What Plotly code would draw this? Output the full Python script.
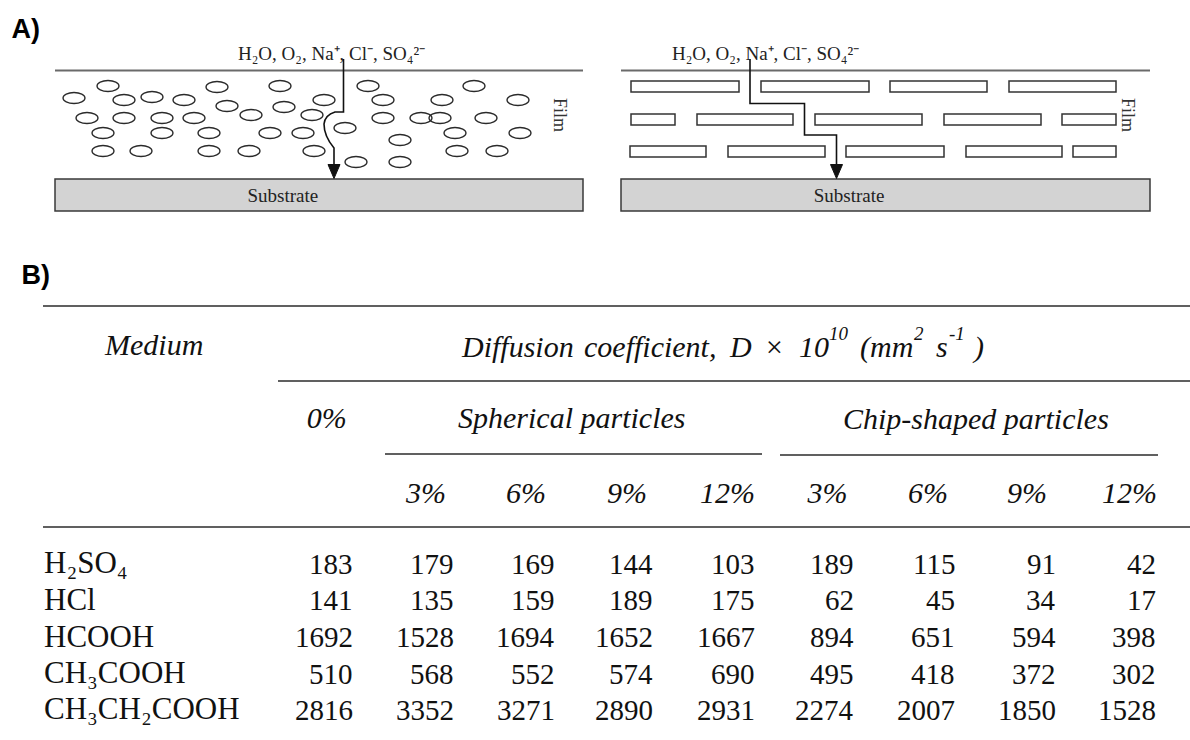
import plotly.graph_objects as go

W, H = 1190, 740
SERIF = "Liberation Serif"
SANS = "Liberation Sans"

# ---------------- Panel A data ----------------
species = "H\u2082O, O\u2082, Na\u207a, Cl\u207b, SO\u2084\u00b2\u207b"

# centres of the spherical particles in the left film
sphere_x = [108, 217, 280, 368, 474,
            74, 124, 152, 184, 324, 383, 442, 518,
            227, 284, 251, 312,
            87, 124, 162, 194, 383, 421, 440, 486,
            345, 103, 162, 209, 270, 303, 455, 520, 400,
            103, 141, 209, 249, 314, 457, 497,
            356, 400]
sphere_y = [86, 87, 86, 86, 86,
            98, 100, 97, 100, 100, 100, 100, 100,
            106, 107, 115, 115,
            118, 118, 118, 118, 118, 118, 118, 118,
            128, 133, 133, 133, 133, 133, 133, 133, 140,
            151, 151, 151, 151, 151, 151, 151,
            162, 162]

# chip-shaped particles: (row top, row bottom, [(x start, x end), ...])
chip_rows = [
    (81, 92, [(631, 739), (761, 869), (890, 987), (1009, 1116)]),
    (114, 125, [(631, 675), (697, 793), (815, 922), (944, 1041), (1062, 1116)]),
    (146, 157, [(630, 706), (728, 825), (846, 944), (966, 1062), (1073, 1116)]),
]

# ---------------- Panel B data ----------------
media = ["H\u2082SO\u2084", "HCl", "HCOOH", "CH\u2083COOH", "CH\u2083CH\u2082COOH"]
loadings = ["3%", "6%", "9%", "12%"]
d_neat = [183, 141, 1692, 510, 2816]
sph_3 = [179, 135, 1528, 568, 3352]
sph_6 = [169, 159, 1694, 552, 3271]
sph_9 = [144, 189, 1652, 574, 2890]
sph_12 = [103, 175, 1667, 690, 2931]
chip_3 = [189, 62, 894, 495, 2274]
chip_6 = [115, 45, 651, 418, 2007]
chip_9 = [91, 34, 594, 372, 1850]
chip_12 = [42, 17, 398, 302, 1528]
table_cols = [d_neat, sph_3, sph_6, sph_9, sph_12, chip_3, chip_6, chip_9, chip_12]

# column title "Diffusion coefficient, D x 10^10 (mm^2 s^-1)", set word by word
title_words = ["Diffusion", "coefficient,", "D", "\u00d7", "10", "(mm", "s", ")"]
title_word_x = [462, 584, 730, 764, 799, 860, 936, 974]
title_sups = ["10", "2", "-1"]
title_sup_x = [829, 914, 949]

# layout of the table
col_right = [352.5, 454, 554.5, 653, 755, 854, 955, 1055.5, 1156]
pct_right = [446, 546, 647, 755, 847.5, 948, 1047, 1157]
row_base = [573.3, 610, 646.7, 683.3, 719.3]   # text baselines of the body rows
NUM_SIZE = 29
LABEL_SIZE = 31

fig = go.Figure()
shapes = []
annotations = []


def text_trace(xs, ys, texts, pos, size, family=SERIF, color="#111111", style="normal",
               weight="normal"):
    fig.add_trace(go.Scatter(
        x=xs, y=ys, text=texts, mode="text", textposition=pos,
        textfont=dict(family=family, size=size, color=color, style=style, weight=weight),
        hoverinfo="skip", showlegend=False))


def line(x0, y0, x1, y1, color, width):
    shapes.append(dict(type="line", xref="x", yref="y", x0=x0, y0=y0, x1=x1, y1=y1,
                       line=dict(color=color, width=width)))


# ---------------- Panel A ----------------
text_trace([11.5], [31.5], ["A)"], "middle right", 27, family=SANS, color="#000000",
           weight="bold")

for (xl, xr) in [(55, 583), (621, 1150)]:
    # film surface
    line(xl, 70.5, xr, 70.5, "#6a6a6a", 2)
    # substrate block
    shapes.append(dict(type="rect", xref="x", yref="y", x0=xl, x1=xr, y0=179, y1=211,
                       fillcolor="#d3d3d3", line=dict(color="#3a3a3a", width=1.5),
                       layer="below"))

# spherical particles
for cx, cy in zip(sphere_x, sphere_y):
    shapes.append(dict(type="circle", xref="x", yref="y",
                       x0=cx - 11, x1=cx + 11, y0=cy - 5.5, y1=cy + 5.5,
                       fillcolor="rgba(0,0,0,0)", line=dict(color="#2a2a2a", width=1.3)))

# chip-shaped particles
for (y0, y1, spans) in chip_rows:
    for (x0, x1) in spans:
        shapes.append(dict(type="rect", xref="x", yref="y", x0=x0, x1=x1, y0=y0, y1=y1,
                           fillcolor="white", line=dict(color="#333333", width=1.5)))

# diffusion paths
shapes.append(dict(type="path", xref="x", yref="y",
                   path="M 343.5 59 L 343.5 112 L 335 112 Q 325 115 324 124 "
                        "Q 324 136 334 148 L 334 166",
                   line=dict(color="#111111", width=1.6)))
shapes.append(dict(type="path", xref="x", yref="y",
                   path="M 328 164.5 L 340 164.5 L 334 178.5 Z",
                   fillcolor="#111111", line=dict(color="#111111", width=1)))
shapes.append(dict(type="path", xref="x", yref="y",
                   path="M 750 59 L 750 103.5 L 804.5 103.5 L 804.5 135 "
                        "L 836.5 135 L 836.5 166",
                   line=dict(color="#111111", width=1.6)))
shapes.append(dict(type="path", xref="x", yref="y",
                   path="M 830.5 164.5 L 842.5 164.5 L 836.5 178.5 Z",
                   fillcolor="#111111", line=dict(color="#111111", width=1)))

text_trace([238, 672], [55.3, 55.3], [species, species], "middle right", 19, color="#222222")
text_trace([247.5, 813.7], [197, 197], ["Substrate", "Substrate"], "middle right", 19,
           color="#222222")
for fx in [560, 1128]:
    annotations.append(dict(x=fx, y=115, xref="x", yref="y", text="Film", showarrow=False,
                            textangle=90, font=dict(family=SERIF, size=18, color="#333333")))

# ---------------- Panel B ----------------
text_trace([21.5], [277], ["B)"], "middle right", 27, family=SANS, color="#000000",
           weight="bold")

rule = "#2b2b2b"
line(43, 306, W, 306, rule, 1.6)
line(278, 381, W, 381, rule, 1.6)
line(385, 454, 762, 454, rule, 1.4)
line(780, 455, 1158, 455, rule, 1.4)
line(43, 527, W, 527, rule, 1.6)

text_trace([105], [347.5], ["Medium"], "middle right", 30, style="italic")
text_trace(title_word_x, [349] * len(title_words), title_words, "middle right", 30,
           style="italic")
text_trace(title_sup_x, [335.5] * len(title_sups), title_sups, "middle right", 19,
           style="italic")
text_trace([346.7], [420.8], ["0%"], "middle left", 30, style="italic")
text_trace([458, 843], [420.8, 421.5], ["Spherical particles", "Chip-shaped particles"],
           "middle right", 30, style="italic")
text_trace(pct_right, [495, 495, 495, 495, 495, 495, 495, 495], loadings + loadings,
           "middle left", 30, style="italic")

# medium names
text_trace([44, 44, 44, 44, 44], [b - 0.25 * LABEL_SIZE for b in row_base], media,
           "middle right", LABEL_SIZE)

# diffusion coefficients, one column per film
for cx, values in zip(col_right, table_cols):
    for base, v in zip(row_base, values):
        annotations.append(dict(
            x=cx + 2, y=base - 0.3375 * NUM_SIZE, xref="x", yref="y",
            xanchor="right", yanchor="middle", text=str(v), showarrow=False,
            font=dict(family=SERIF, size=NUM_SIZE, color="#111111")))

fig.update_layout(
    width=W, height=H, margin=dict(l=0, r=0, t=0, b=0),
    paper_bgcolor="white", plot_bgcolor="white",
    xaxis=dict(range=[0, W], visible=False, fixedrange=True),
    yaxis=dict(range=[H, 0], visible=False, fixedrange=True),
    shapes=shapes, annotations=annotations, showlegend=False,
)

fig.write_html("out.html")
